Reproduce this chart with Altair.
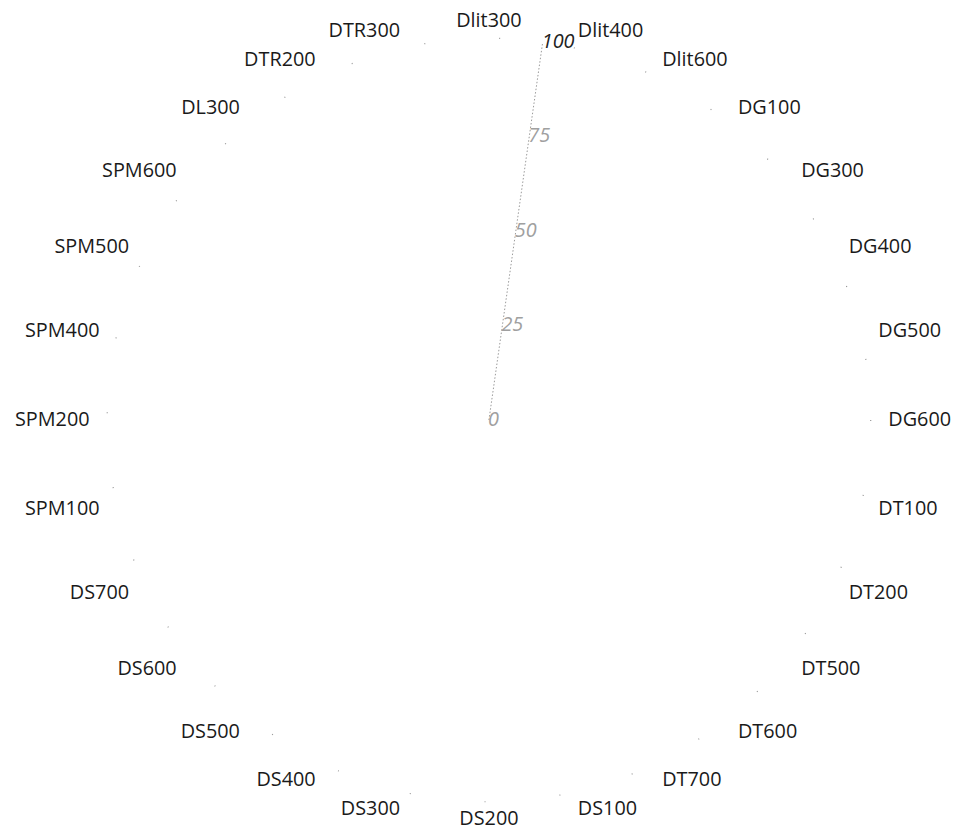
import math
import pandas as pd
import altair as alt

# ---- data ----
categories = ["Dlit300", "Dlit400", "Dlit600", "DG100", "DG300", "DG400", "DG500", "DG600",
              "DT100", "DT200", "DT500", "DT600", "DT700", "DS100", "DS200", "DS300",
              "DS400", "DS500", "DS600", "DS700", "SPM100", "SPM200", "SPM400", "SPM500",
              "SPM600", "DL300", "DTR200", "DTR300"]
tick_values = [0, 25, 50, 75, 100]
tick_labels = ["0", "25", "50", "75", "100"]
r_max = 100

# ---- layout ----
axis_angle_deg = 8.1
label_radius = 104.6      # in value units
PAD_TOP = 14
W, H = 953, 811
CX, CY = 485, 398         # centre of the radar inside the plot area (px)
PX = 3.85                 # pixels per value unit

xdom = [-CX / PX, (W - CX) / PX]
ydom = [-(H - CY) / PX, CY / PX]

n = len(categories)
rows = []
for i, c in enumerate(categories):
    a = math.radians(i * 360.0 / n)
    s = math.sin(a)
    side = "center" if abs(s) < 0.05 else ("left" if s > 0 else "right")
    rows.append({"cat": c, "x": label_radius * s, "y": label_radius * math.cos(a), "side": side})
cat_df = pd.DataFrame(rows)

aa = math.radians(axis_angle_deg)
tick_df = pd.DataFrame({
    "v": tick_values,
    "label": tick_labels,
    "x": [v * math.sin(aa) for v in tick_values],
    "y": [v * math.cos(aa) for v in tick_values],
})
axis_df = pd.DataFrame({"x": [0.0], "y": [0.0],
                        "x2": [r_max * math.sin(aa)], "y2": [r_max * math.cos(aa)]})

X = alt.X("x:Q", scale=alt.Scale(domain=xdom, nice=False, zero=False), axis=None)
Y = alt.Y("y:Q", scale=alt.Scale(domain=ydom, nice=False, zero=False), axis=None)

outer = alt.Chart(pd.DataFrame({"x": [0.0], "y": [0.0]})).mark_point(
    shape="circle", size=(2 * r_max * PX) ** 2, filled=False,
    stroke="#8a8a8a", strokeWidth=1.2, strokeDash=[1, 75], opacity=0.9
).encode(x=X, y=Y)

axis_line = alt.Chart(axis_df).mark_rule(
    color="#999999", strokeWidth=1, strokeDash=[1.5, 2]
).encode(x=X, y=Y, x2="x2:Q", y2="y2:Q")

ticks = alt.Chart(tick_df).mark_text(
    align="left", baseline="middle", dx=-1, font="Open Sans", fontSize=20, fontStyle="italic"
).encode(
    x=X, y=Y, text="label:N",
    color=alt.condition(alt.datum.v == 100, alt.value("#222222"), alt.value("#a0a0a0")),
)

def lab(side):
    return alt.Chart(cat_df).transform_filter(alt.datum.side == side).mark_text(
        align=side, baseline="middle", font="Open Sans", fontSize=20, color="#1a1a1a"
    ).encode(x=X, y=Y, text="cat:N")

chart = alt.layer(outer, axis_line, ticks, lab("left"), lab("right"), lab("center")).properties(
    width=W, height=H, padding={"left": 0, "top": PAD_TOP, "right": 0, "bottom": 0},
    autosize=alt.AutoSizeParams(type="none"),
    background="white"
).configure_view(stroke=None)

chart.save("out.html", embed_options={"renderer": "svg", "actions": False})
